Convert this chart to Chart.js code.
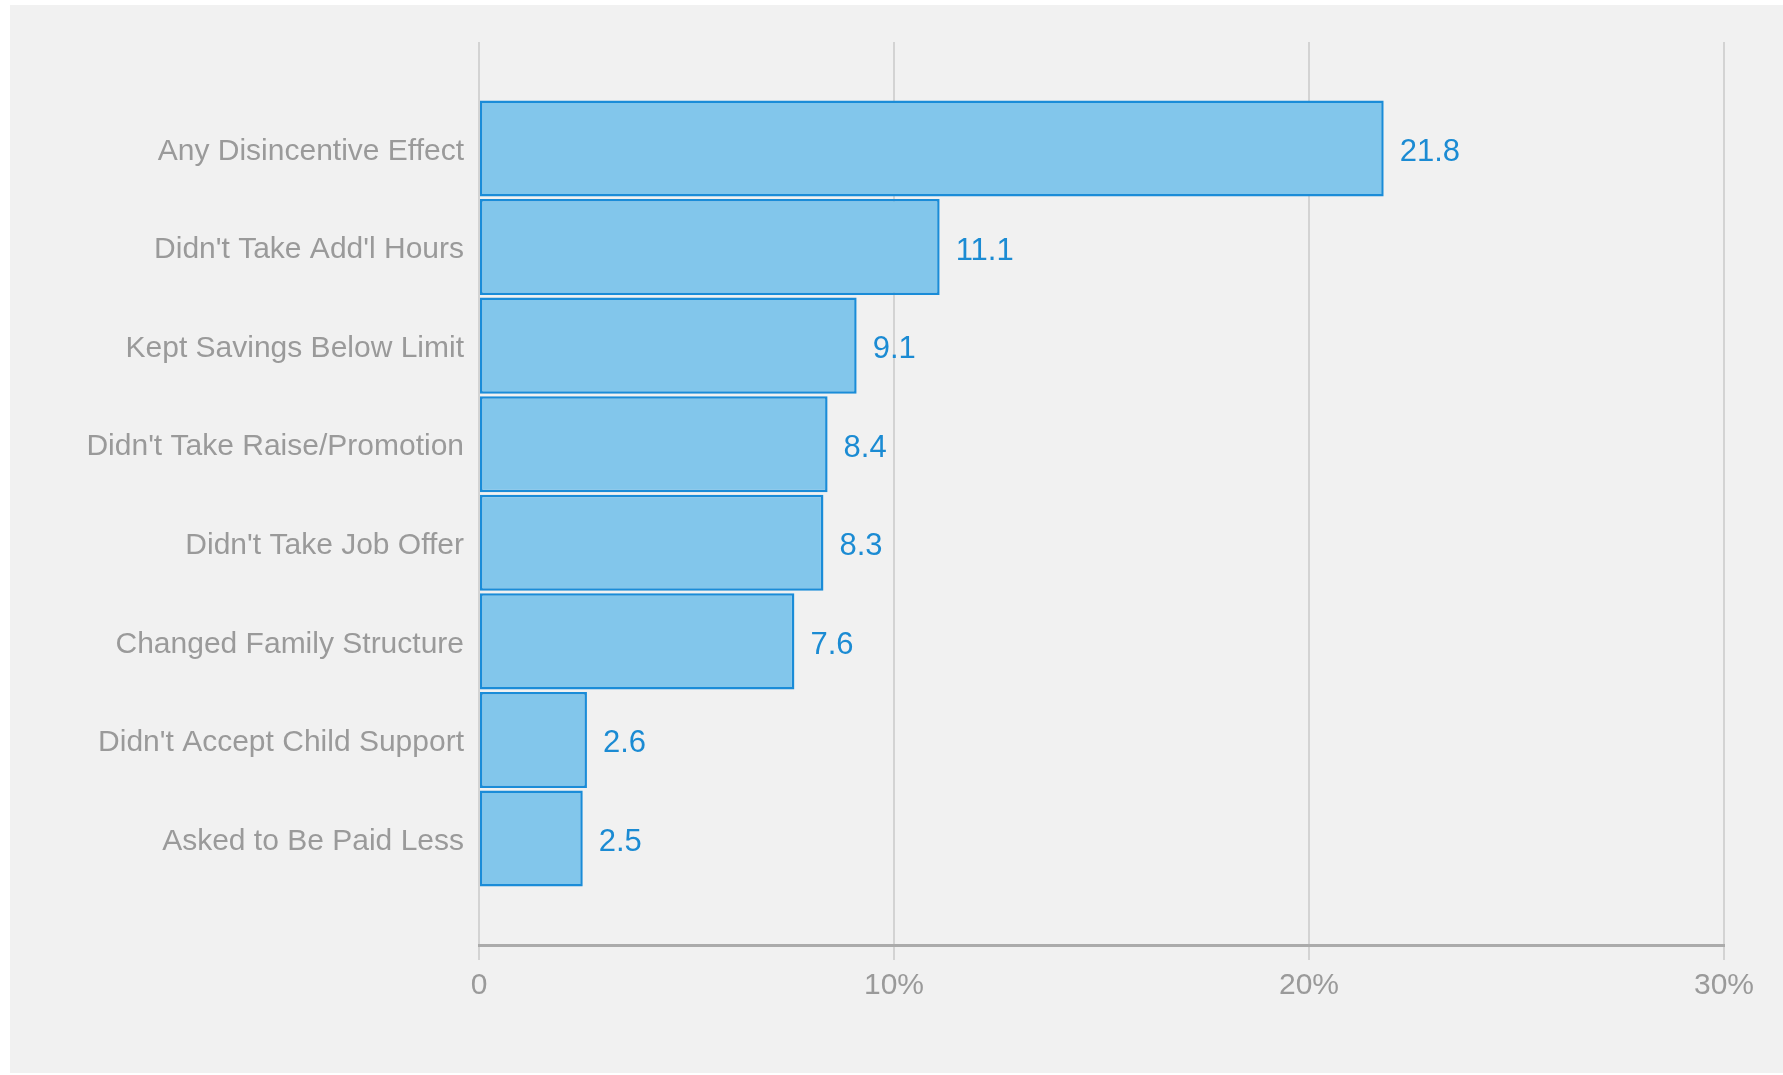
<!DOCTYPE html>
<html>
<head>
<meta charset="utf-8">
<title>Disincentive effects</title>
<script src="https://cdn.jsdelivr.net/npm/chart.js@4/dist/chart.umd.min.js"></script>
<style>
  html, body { margin: 0; padding: 0; background: #ffffff; }
  #panel { position: absolute; left: 10px; top: 5px; right: 0; bottom: 2px; background: #f1f1f1; }
  #wrap { position: absolute; left: 0; top: 0; width: 1783px; height: 1075px; }
</style>
</head>
<body>
<div id="panel"></div>
<div id="wrap"><canvas id="chart"></canvas></div>
<script>
// categories, top to bottom
const categories = [
  'Any Disincentive Effect',
  "Didn't Take Add'l Hours",
  'Kept Savings Below Limit',
  "Didn't Take Raise/Promotion",
  "Didn't Take Job Offer",
  'Changed Family Structure',
  "Didn't Accept Child Support",
  'Asked to Be Paid Less'
];
const values = [21.8, 11.1, 9.1, 8.4, 8.3, 7.6, 2.6, 2.5];
const xTicks = [0, 10, 20, 30];

const FONT = 'Arimo, "Liberation Sans", Arial, sans-serif';

// value labels to the right of each bar
const valueLabels = {
  id: 'valueLabels',
  afterDatasetsDraw(chart) {
    const ctx = chart.ctx;
    const meta = chart.getDatasetMeta(0);
    ctx.save();
    ctx.font = '31px ' + FONT;
    ctx.fillStyle = '#1b8bd3';
    ctx.textAlign = 'left';
    ctx.textBaseline = 'middle';
    meta.data.forEach((bar, i) => {
      ctx.fillText(values[i].toFixed(1), bar.x + 16, bar.y + 4);
    });
    ctx.restore();
  }
};

new Chart(document.getElementById('chart'), {
  type: 'bar',
  data: {
    datasets: [{
      data: values.map((v, i) => ({ x: v, y: i })),
      backgroundColor: '#82c6eb',
      borderColor: '#1a8cd8',
      borderWidth: 2.5,
      borderSkipped: false,
      barPercentage: 0.975,
      categoryPercentage: 1
    }]
  },
  options: {
    indexAxis: 'y',
    responsive: true,
    maintainAspectRatio: false,
    animation: false,
    layout: { padding: { top: 42, right: 59, left: 0, bottom: 0 } },
    plugins: { legend: { display: false }, tooltip: { enabled: false } },
    scales: {
      x: {
        type: 'linear',
        min: 0,
        max: 30,
        afterBuildTicks: s => { s.ticks = xTicks.map(v => ({ value: v })); },
        afterFit: s => { s.height = 130; },
        ticks: {
          color: '#9a9a9a',
          font: { family: FONT, size: 30 },
          padding: 8,
          callback: v => v === 0 ? '0' : v + '%'
        },
        grid: { color: '#d3d3d3', lineWidth: 2, tickLength: 15, drawTicks: true },
        border: { color: '#ababab', width: 3 }
      },
      y: {
        type: 'linear',
        reverse: true,
        offset: false,
        min: -1.08,
        max: 8.08,
        afterFit: s => { s.width = 479; },
        ticks: {
          stepSize: 1,
          includeBounds: false,
          autoSkip: false,
          color: '#9a9a9a',
          font: { family: FONT, size: 30 },
          padding: 7,
          labelOffset: 3,
          callback: v => categories[v] || ''
        },
        grid: { display: false, offset: false },
        border: { display: false }
      }
    }
  },
  plugins: [valueLabels]
});
</script>
</body>
</html>
